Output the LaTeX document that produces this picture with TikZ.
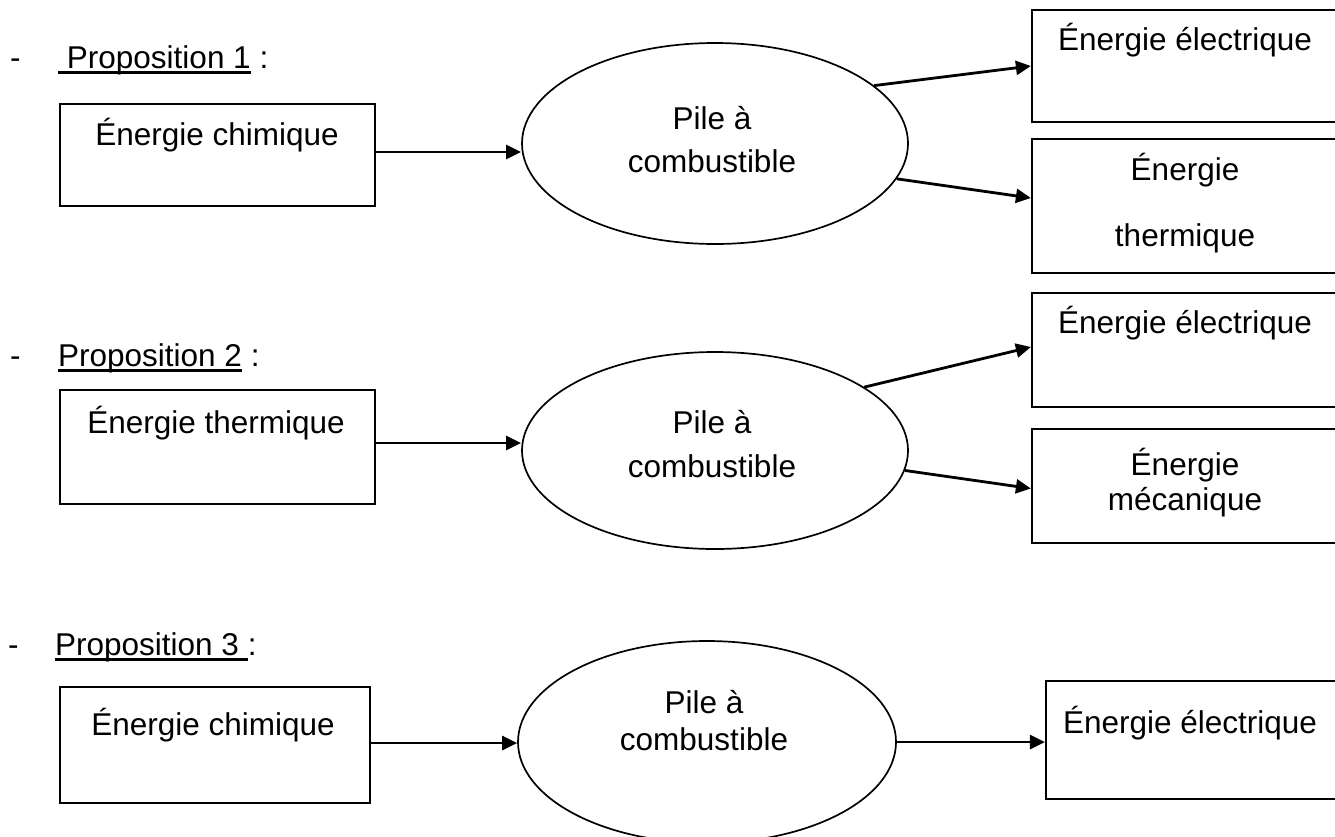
\documentclass[tikz,border=0pt]{standalone}
\usepackage{fontspec}
\setmainfont{Liberation Sans}
\usetikzlibrary{arrows.meta,shapes.geometric}
\newcommand\myul[1]{\setbox0\hbox{#1}\rlap{\rule[-6pt]{\wd0}{2.6pt}}\box0\relax}
\begin{document}
\begin{tikzpicture}[x=1pt,y=-1pt,
  every node/.style={font=\fontsize{31.5}{37}\selectfont, inner sep=0pt},
  box/.style={draw, line width=2.2pt, rectangle},
  ell/.style={draw, line width=1.7pt, ellipse},
  txt/.style={anchor=base},
  arr/.style={-{Triangle[length=15pt,width=14pt]}, line width=2.8pt}]
\clip (0,0) rectangle (1335,836);
\fill[white] (0,0) rectangle (1335,836);
% Proposition 1
\node[anchor=base west] (d1) at (10,68) {-};
\node[anchor=base west] (p1) at (58,68) {\myul{\ Proposition 1} :};
\node[box, minimum width=315pt, minimum height=102pt] (b1) at (217.5,155) {};
\node[txt] (t1) at (217,145) {Énergie chimique};
\node[ell, minimum width=386pt, minimum height=201pt] (e1) at (715,143.5) {};
\node[txt] (t1a) at (712,129) {Pile à};
\node[txt] (t1b) at (712,172) {combustible};
\node[box, minimum width=313pt, minimum height=112pt] (b2) at (1188.5,66) {};
\node[txt] (t2) at (1185,50) {Énergie électrique};
\node[box, minimum width=313pt, minimum height=134pt] (b3) at (1188.5,206) {};
\node[txt] (t3a) at (1185,180) {Énergie};
\node[txt] (t3b) at (1185,246) {thermique};
\coordinate (a1) at ([yshift=3pt]b1.east);
\draw[arr] (a1) -- (a1 -| e1.west);
\draw[arr] (e1.20) -- (b2.west);
\draw[arr] (e1.-11) -- ([yshift=8pt]b3.west);
% Proposition 2
\node[anchor=base west] (d2) at (10,366) {-};
\node[anchor=base west] (p2) at (58,366) {\myul{Proposition 2} :};
\node[box, minimum width=315pt, minimum height=114pt] (b4) at (217.5,447) {};
\node[txt] (t4) at (216,433) {Énergie thermique};
\node[ell, minimum width=386pt, minimum height=197pt] (e2) at (715,450.5) {};
\node[txt] (t2a) at (712,433) {Pile à};
\node[txt] (t2b) at (712,477) {combustible};
\node[box, minimum width=313pt, minimum height=114pt] (b5) at (1188.5,350) {};
\node[txt] (t5) at (1185,333) {Énergie électrique};
\node[box, minimum width=313pt, minimum height=114pt] (b6) at (1188.5,486) {};
\node[txt] (t6a) at (1185,475) {Énergie};
\node[txt] (t6b) at (1185,510) {mécanique};
\coordinate (a2) at ([yshift=4pt]b4.east);
\draw[arr] (a2) -- (a2 -| e2.west);
\draw[arr] (e2.23) -- ([yshift=3pt]b5.west);
\draw[arr] (e2.-6) -- ([yshift=-2.5pt]b6.west);
% Proposition 3
\node[anchor=base west] (d3) at (8,655) {-};
\node[anchor=base west] (p3) at (55,655) {\myul{Proposition 3 }:};
\node[box, minimum width=310pt, minimum height=116pt] (b7) at (215,745) {};
\node[txt] (t7) at (213,735) {Énergie chimique};
\node[ell, minimum width=378pt, minimum height=202pt] (e3) at (707,742) {};
\node[txt] (t3c) at (704,713) {Pile à};
\node[txt] (t3d) at (704,750) {combustible};
\node[box, minimum width=299pt, minimum height=118pt] (b8) at (1195.5,740) {};
\node[txt] (t8) at (1190,733) {Énergie électrique};
\coordinate (a3) at ([yshift=2pt]b7.east);
\draw[arr] (a3) -- (a3 -| e3.west);
\draw[arr] (e3.east) -- (e3.east -| b8.west);
\end{tikzpicture}
\end{document}
